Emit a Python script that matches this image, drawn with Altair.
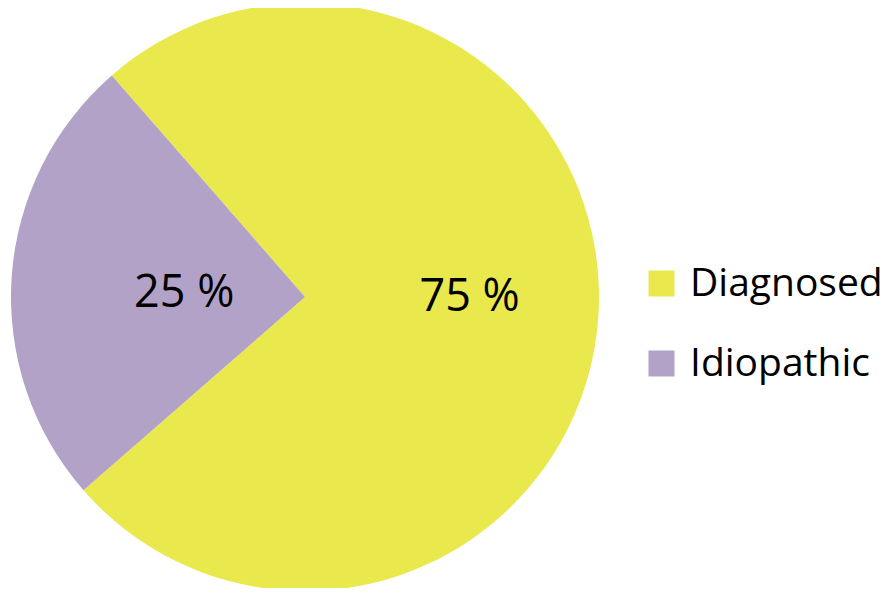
import math
import altair as alt
import pandas as pd

categories = ["Diagnosed", "Idiopathic"]
values = [75, 25]
labels = ["75 %", "25 %"]
colors = ["#E9E84C", "#B2A2C7"]

df = pd.DataFrame({"category": categories, "value": values, "label": labels,
                   "order": list(range(len(categories)))})

start = math.radians(-41.1)
theta_scale = alt.Scale(domain=[0, 100], range=[start, start + 2 * math.pi])
color_scale = alt.Scale(domain=categories, range=colors)

CX, CY, R = 297, 289, 294
FONT = "Open Sans"

pie = alt.Chart(df).mark_arc(outerRadius=R, stroke=None).encode(
    theta=alt.Theta("value:Q", stack=True, scale=theta_scale),
    order=alt.Order("order:Q"),
    x=alt.value(CX), y=alt.value(CY),
    color=alt.Color(
        "category:N", scale=color_scale,
        legend=alt.Legend(
            title=None, orient="none", legendX=634, legendY=256,
            symbolType="square", symbolSize=676, symbolStrokeWidth=0,
            symbolOpacity=1, labelFont=FONT, labelFontSize=39,
            labelColor="#000000", labelOffset=9, rowPadding=40,
            padding=0, labelLimit=400,
        ),
    ),
)

stacked = alt.Chart(df).transform_stack(
    stack="value", groupby=[], as_=["v0", "v1"],
    sort=[alt.SortField("order", order="ascending")],
).transform_calculate(mid="(datum.v0 + datum.v1) / 2")


def label_layer(cat, r, dy):
    return stacked.transform_filter(alt.datum.category == cat).mark_text(
        font=FONT, fontSize=45, color="#000000", baseline="middle",
        align="center", radius=r, dy=dy,
    ).encode(
        theta=alt.Theta("mid:Q", stack=None, scale=theta_scale),
        x=alt.value(CX), y=alt.value(CY), text="label:N",
    )


chart = alt.layer(
    pie, label_layer("Diagnosed", 165, -11), label_layer("Idiopathic", 121, 4)
).properties(
    width=879, height=580, autosize=alt.AutoSizeParams(type="none"), padding=0
).configure_view(stroke=None)

chart.save("out.html", embed_options={"renderer": "svg", "actions": False})
